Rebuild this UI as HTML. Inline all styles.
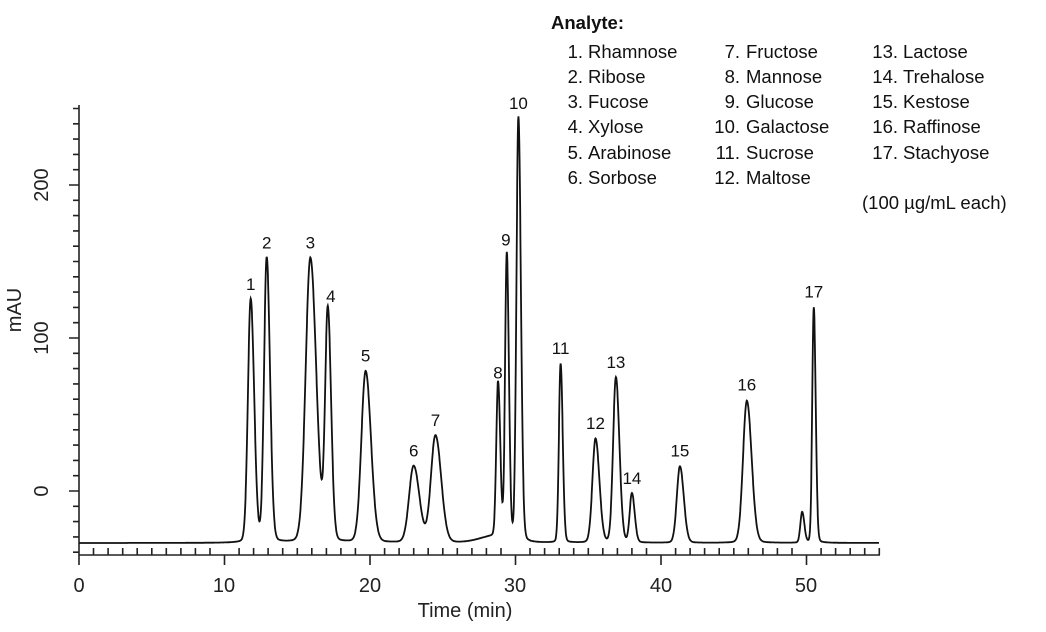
<!DOCTYPE html>
<html><head><meta charset="utf-8"><style>
html,body{margin:0;padding:0;background:#fff;}
svg{display:block;font-family:"Liberation Sans",sans-serif;}
.lg{font-size:18.5px;fill:#111;}
</style></head><body>
<svg id="s" width="1046" height="632" viewBox="0 0 1046 632">
<g id="axes" stroke="#222" stroke-width="1.6" fill="none"></g>
<path id="trace" d="" stroke="#111" stroke-width="1.8" fill="none"/>
<g font-size="20" fill="#222">
<text x="79" y="592" text-anchor="middle">0</text>
<text x="224" y="592" text-anchor="middle">10</text>
<text x="370" y="592" text-anchor="middle">20</text>
<text x="515" y="592" text-anchor="middle">30</text>
<text x="661" y="592" text-anchor="middle">40</text>
<text x="806" y="592" text-anchor="middle">50</text>
<text x="465" y="617" text-anchor="middle">Time (min)</text>
<text transform="translate(48,491) rotate(-90)" text-anchor="middle">0</text>
<text transform="translate(48,338) rotate(-90)" text-anchor="middle">100</text>
<text transform="translate(48,185) rotate(-90)" text-anchor="middle">200</text>
<text transform="translate(21,310) rotate(-90)" text-anchor="middle">mAU</text>
</g>
<g id="plabels" font-size="17" fill="#111" text-anchor="middle"></g>
<g class="lg">
<text x="551" y="29" font-weight="bold">Analyte:</text>
<g text-anchor="end">
<text x="583" y="58">1.</text><text x="583" y="83">2.</text><text x="583" y="108">3.</text><text x="583" y="133">4.</text><text x="583" y="159">5.</text><text x="583" y="184">6.</text>
<text x="740" y="58">7.</text><text x="740" y="83">8.</text><text x="740" y="108">9.</text><text x="740" y="133">10.</text><text x="740" y="159">11.</text><text x="740" y="184">12.</text>
<text x="898" y="58">13.</text><text x="898" y="83">14.</text><text x="898" y="108">15.</text><text x="898" y="133">16.</text><text x="898" y="159">17.</text>
</g>
<text x="588" y="58">Rhamnose</text><text x="588" y="83">Ribose</text><text x="588" y="108">Fucose</text><text x="588" y="133">Xylose</text><text x="588" y="159">Arabinose</text><text x="588" y="184">Sorbose</text>
<text x="746" y="58">Fructose</text><text x="746" y="83">Mannose</text><text x="746" y="108">Glucose</text><text x="746" y="133">Galactose</text><text x="746" y="159">Sucrose</text><text x="746" y="184">Maltose</text>
<text x="903" y="58">Lactose</text><text x="903" y="83">Trehalose</text><text x="903" y="108">Kestose</text><text x="903" y="133">Raffinose</text><text x="903" y="159">Stachyose</text>
<text x="862" y="209">(100 µg/mL each)</text>
</g>
</svg>
<script>
var X=function(t){return 79+t*14.55;},Y=function(v){return 491-v*1.53;};
var ax=document.getElementById('axes'),d='M79,105 L79,555 L880,555';
for(var v=-40;v<=250;v+=10){var L=(v%100==0)?10:6;d+=' M79,'+Y(v).toFixed(1)+' l'+(-L)+',0';}
for(var t=0;t<=55;t++){if(t%10==0)d+=' M'+X(t).toFixed(1)+',555 l0,10';else d+=' M'+X(t).toFixed(1)+',555 l0,-7';}
ax.innerHTML='<path d="'+d+'"/>';
var P=[[11.8,125,0.19,'1',0,0],[12.9,152,0.18,'2',0,0],[15.9,152,0.32,'3',0,0],[17.1,117,0.18,'4',3,0],[19.7,78,0.29,'5',0,0],[23.0,16,0.31,'6',0,0],[24.5,36,0.31,'7',0,0],[28.8,67,0.12,'8',0,0],[29.4,152,0.115,'9',-1,-3],[30.2,243,0.135,'10',0,0],[33.1,83,0.115,'11',0,0],[35.5,34,0.21,'12',0,0],[36.9,74,0.19,'13',0,0],[38.0,-2,0.15,'14',0,0],[41.3,16,0.21,'15',0,0],[45.9,59,0.26,'16',0,0],[49.7,-14,0.12,'',0,0],[50.5,120,0.105,'17',0,0]];
var base=-34;
function f(t){var s=base+(t>25.5&&t<31?4*Math.exp(-Math.pow((t-28.5)/1.0,2)/2):0);
for(var i=0;i<P.length;i++){var p=P[i];var a=p[1]-base;var sg=p[2]*(t>p[0]?1.25:1);var u=(t-p[0])/sg;
s+=a*(0.97*Math.exp(-u*u/2)+0.03/(1+u*u/4));}return s;}
var pd='';for(var t=0;t<=55;t+=0.02){pd+=(t==0?'M':'L')+X(t).toFixed(1)+','+Y(f(t)).toFixed(1);}
document.getElementById('trace').setAttribute('d',pd);
var pl='';P.forEach(function(p){if(p[3])pl+='<text x="'+(X(p[0])+p[4]).toFixed(1)+'" y="'+(Y(p[1])-10+p[5]).toFixed(1)+'">'+p[3]+'</text>';});
document.getElementById('plabels').innerHTML=pl;
</script>
</body></html>
